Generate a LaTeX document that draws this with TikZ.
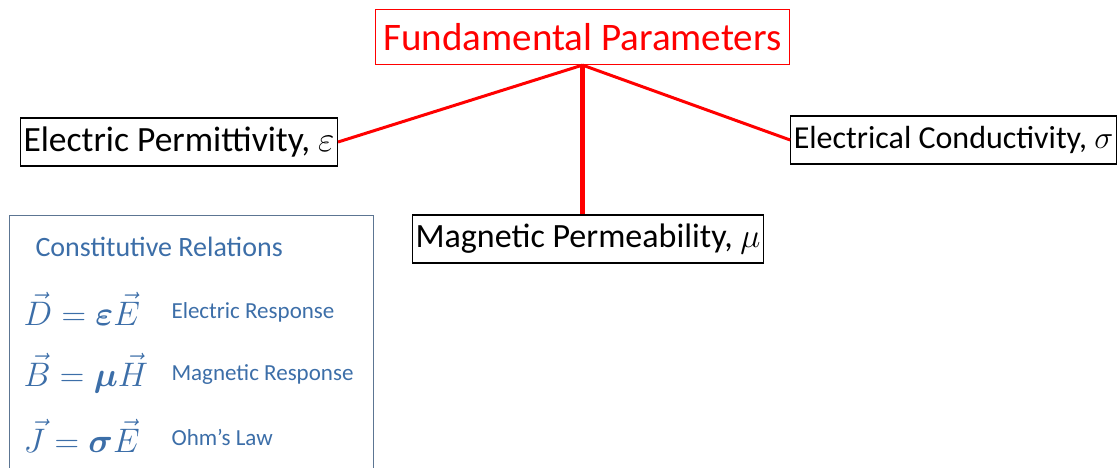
\RequirePackage{fix-cm}
\documentclass[tikz,border=0pt]{standalone}
\usepackage{amsmath}
\usepackage{fontspec}
\setmainfont{Carlito}
\definecolor{relBlue}{HTML}{3C6EA8}
\definecolor{relFrame}{HTML}{5C7592}

\begin{document}
\begin{tikzpicture}[x=1pt, y=-1pt,
    param/.style={draw=black, line width=1.2pt, inner xsep=3pt, inner ysep=0pt,
      minimum height=48pt, font=\fontsize{34}{37}\selectfont},
    topbox/.style={draw=red, line width=1.2pt, text=red, inner xsep=8pt, inner ysep=0pt,
      minimum height=55pt, font=\fontsize{39}{42}\selectfont},
    link/.style={draw=red, line width=3pt},
    rel/.style={anchor=west, text=relBlue, font=\fontsize{23}{26}\selectfont},
    eqn/.style={anchor=west, text=relBlue, font=\fontsize{34}{38}\selectfont},
]
\useasboundingbox (0,0) rectangle (1119,468);

% parameter tree
\node[topbox] (fund) at (582.5, 37) {Fundamental Parameters};
\node[param, font=\fontsize{35.5}{38}\selectfont] (perm) at (179, 142) {Electric Permittivity, $\varepsilon$};
\node[param, font=\fontsize{32}{35}\selectfont] (cond) at (953.5, 140) {Electrical Conductivity, $\sigma$};
\node[param] (mu) at (588, 239) {Magnetic Permeability, $\mu$};

\draw[link] (fund.south) -- (perm.east);
\draw[link] (fund.south) -- (cond.west);
\draw[link, line width=5pt] (fund.south) -- (fund.south |- mu.north);

% constitutive relations
\draw[relFrame, line width=1pt] (9,470) |- (373,215) -- (373,470);
\node[rel, font=\fontsize{28}{31}\selectfont] (title) at (32, 247) {Constitutive Relations};
\node[eqn] (eqD) at (20, 309) {$\vec{D} = \boldsymbol{\varepsilon}\vec{E}$};
\node[eqn] (eqB) at (20, 373) {$\vec{B} = \boldsymbol{\mu}\vec{H}$};
\node[eqn] (eqJ) at (20, 436) {$\vec{J} = \boldsymbol{\sigma}\vec{E}$};
\node[rel] (resE) at (168, 312) {Electric Response};
\node[rel] (resB) at (168, 375) {Magnetic Response};
\node[rel] (ohm) at (168, 437) {Ohm’s Law};
\end{tikzpicture}
\end{document}
